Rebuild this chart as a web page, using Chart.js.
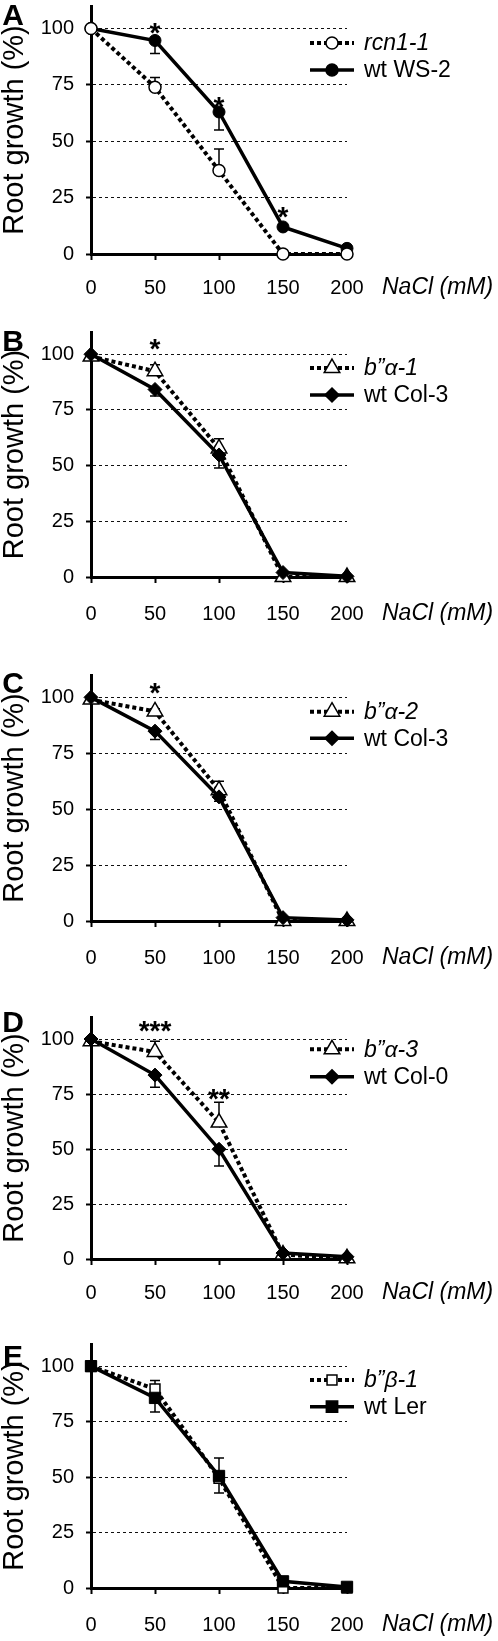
<!DOCTYPE html>
<html><head><meta charset="utf-8">
<script src="https://cdn.jsdelivr.net/npm/chart.js@4.4.1/dist/chart.umd.min.js"></script>
<style>
html,body{margin:0;padding:0;background:#fff;width:498px;height:1641px;overflow:hidden;position:relative}
.p{position:absolute;left:0;width:498px}
</style></head><body>
<script>
// ---------- DATA ----------
const nacl = [0, 50, 100, 150, 200];
const yTicks = [0, 25, 50, 75, 100];
// error arrays: positive = bar drawn upward, negative = bar drawn downward
// Panel A
const rcn11 = [100, 74, 37, 0, 0];
const rcn11Err = [0, 4.3, 9.6, 0, 0];
const wtWS2 = [100, 94.7, 63, 12, 2.5];
const wtWS2Err = [0, -5.8, -8, 0, 0];
const sigA = {x: [50, 100, 150], y: [101.2, 68.3, 19.7], t: ['*', '*', '*']};
// Panel B
const ba1 = [99, 92.4, 57.7, 0, 0];
const ba1Err = [0, 2.9, 4.4, 0, 0];
const wtCol3B = [100, 84.2, 54.8, 2, 0.3];
const wtCol3BErr = [0, -2.9, -5.9, 0, 0];
const sigB = {x: [50], y: [105.3], t: ['*']};
// Panel C
const ba2 = [99, 93.7, 58.5, 0, 0];
const ba2Err = [0, 1.2, 4, 0, 0];
const wtCol3C = [100, 84.9, 55.5, 1.5, 0.5];
const wtCol3CErr = [0, -3.7, -2, 0, 0];
const sigC = {x: [50], y: [105.3], t: ['*']};
// Panel D
const ba3 = [99, 94.1, 62, 2, 0.3];
const ba3Err = [0, 4.9, 9.3, 0, 0];
const wtCol0 = [100, 83.6, 49.9, 2.7, 1];
const wtCol0Err = [0, -5.5, -7.6, 0, 0];
const sigD = {x: [50, 100], y: [106.6, 75.8], t: ['***', '**']};
// Panel E
const bb1 = [100, 89.7, 49.5, 0, 0];
const bb1Err = [0, 3.8, -6.7, 0, 0];
const wtLer = [100, 85.7, 50.5, 3, 0.5];
const wtLerErr = [0, -6.4, 8.1, 0, 0];
const sigE = {x: [], y: [], t: []};

// ---------- LAYOUT / STYLE ----------
const FONT = "'Liberation Sans', Arial, Helvetica, sans-serif";
Chart.defaults.font.family = FONT;
Chart.defaults.color = '#000';
const PADTOP = 20, XAXISH = 52, YAXISW = 91, RIGHTPAD = 151;

const panels = [
  {letter: 'A', top: 2, bottom: 254, letterY: 16, legendY: [43, 70], tickPad: 16, mutOnTop: true, sig: sigA,
   mut: {label: 'rcn1-1', data: rcn11, err: rcn11Err, style: 'circle', r: 6},
   wt: {label: 'wt WS-2', data: wtWS2, err: wtWS2Err, style: 'circle', r: 6}},
  {letter: 'B', top: 328, bottom: 577, letterY: 341.5, legendY: [368, 395], tickPad: 19, mutOnTop: false, sig: sigB,
   mut: {label: 'b”α-1', data: ba1, err: ba1Err, style: 'triangle', r: 9},
   wt: {label: 'wt Col-3', data: wtCol3B, err: wtCol3BErr, style: 'rectRot', r: 7}},
  {letter: 'C', top: 671, bottom: 921, letterY: 684, legendY: [711.7, 738.3], tickPad: 19, mutOnTop: false, sig: sigC,
   mut: {label: 'b”α-2', data: ba2, err: ba2Err, style: 'triangle', r: 9},
   wt: {label: 'wt Col-3', data: wtCol3C, err: wtCol3CErr, style: 'rectRot', r: 7}},
  {letter: 'D', top: 1013, bottom: 1259, letterY: 1023, legendY: [1049.3, 1076.7], tickPad: 16, mutOnTop: false, sig: sigD,
   mut: {label: 'b”α-3', data: ba3, err: ba3Err, style: 'triangle', r: 9},
   wt: {label: 'wt Col-0', data: wtCol0, err: wtCol0Err, style: 'rectRot', r: 7}},
  {letter: 'E', top: 1340, bottom: 1588, letterY: 1357, legendY: [1380, 1406.7], tickPad: 19, mutOnTop: false, sig: sigE,
   mut: {label: 'b”β-1', data: bb1, err: bb1Err, style: 'rect', r: 7},
   wt: {label: 'wt Ler', data: wtLer, err: wtLerErr, style: 'rect', r: 8}}
];

function marker(ctx, style, r, x, y, fill) {
  ctx.save();
  ctx.fillStyle = fill; ctx.strokeStyle = '#000'; ctx.lineWidth = 1.5; ctx.setLineDash([]);
  ctx.beginPath();
  if (style === 'circle') { ctx.arc(x, y, r, 0, Math.PI * 2); }
  else if (style === 'triangle') {
    for (let k = 0; k < 3; k++) { const a = k * 2 * Math.PI / 3; const px = x + Math.sin(a) * r, py = y - Math.cos(a) * r; k ? ctx.lineTo(px, py) : ctx.moveTo(px, py); }
    ctx.closePath();
  } else if (style === 'rectRot') {
    ctx.moveTo(x, y - r); ctx.lineTo(x + r, y); ctx.lineTo(x, y + r); ctx.lineTo(x - r, y); ctx.closePath();
  } else { const s = Math.SQRT1_2 * r; ctx.rect(x - s, y - s, 2 * s, 2 * s); }
  ctx.fill(); ctx.stroke();
  ctx.restore();
}

function makeDecor(p) {
  return {
    id: 'decor',
    beforeDatasetsDraw(chart) {
      const ctx = chart.ctx, xs = chart.scales.x, ys = chart.scales.y;
      ctx.save(); ctx.strokeStyle = '#000'; ctx.lineWidth = 1.5; ctx.setLineDash([]);
      [p.mut, p.wt].forEach(s => {
        s.data.forEach((v, i) => {
          const e = s.err[i]; if (!e) return;
          const x = xs.getPixelForValue(nacl[i]);
          const y0 = ys.getPixelForValue(v), y1 = ys.getPixelForValue(v + e);
          ctx.beginPath(); ctx.moveTo(x, y0); ctx.lineTo(x, y1);
          ctx.moveTo(x - 5, y1); ctx.lineTo(x + 5, y1); ctx.stroke();
        });
      });
      ctx.restore();
    },
    afterDraw(chart) {
      const ctx = chart.ctx, xs = chart.scales.x, ys = chart.scales.y;
      const off = p.top - PADTOP; // canvas top in page coords
      ctx.save();
      ctx.fillStyle = '#000';
      ctx.font = "bold 30px " + FONT; ctx.textAlign = 'center'; ctx.textBaseline = 'middle';
      ctx.fillText(p.letter, 13, p.letterY - off + 1);
      ctx.font = "italic 23px " + FONT; ctx.textAlign = 'left';
      ctx.fillText('NaCl (mM)', 382, chart.chartArea.bottom + 6 + p.tickPad + 12);
      [p.mut, p.wt].forEach((s, k) => {
        const y = p.legendY[k] - off;
        ctx.save();
        ctx.strokeStyle = '#000';
        if (k === 0) { ctx.lineWidth = 4; ctx.setLineDash([4, 3]); } else { ctx.lineWidth = 3.5; ctx.setLineDash([]); }
        ctx.beginPath(); ctx.moveTo(310, y); ctx.lineTo(354, y); ctx.stroke();
        ctx.restore();
        marker(ctx, s.style, s.r, 332, y, k === 0 ? '#fff' : '#000');
        ctx.font = (k === 0 ? 'italic ' : '') + '23px ' + FONT;
        ctx.textAlign = 'left'; ctx.textBaseline = 'middle';
        ctx.fillText(s.label, 364, y + 1);
      });
      ctx.font = "bold 28px " + FONT; ctx.textAlign = 'center'; ctx.textBaseline = 'alphabetic';
      p.sig.x.forEach((xv, i) => {
        ctx.fillText(p.sig.t[i], xs.getPixelForValue(xv), ys.getPixelForValue(p.sig.y[i]) + 16);
      });
      ctx.restore();
    }
  };
}

panels.forEach(p => {
  const div = document.createElement('div');
  div.className = 'p';
  const h = PADTOP + (p.bottom - p.top) + XAXISH;
  div.style.top = (p.top - PADTOP) + 'px';
  div.style.height = h + 'px';
  const cv = document.createElement('canvas');
  div.appendChild(cv);
  document.body.appendChild(div);

  const mutDs = {
    label: p.mut.label, data: p.mut.data.map((v, i) => ({x: nacl[i], y: v})),
    borderColor: '#000', borderWidth: 4, borderDash: [4, 3],
    pointStyle: p.mut.style, pointRadius: p.mut.r, pointBackgroundColor: '#fff',
    pointBorderColor: '#000', pointBorderWidth: 1.5, tension: 0, clip: false
  };
  const wtDs = {
    label: p.wt.label, data: p.wt.data.map((v, i) => ({x: nacl[i], y: v})),
    borderColor: '#000', borderWidth: 3.5,
    pointStyle: p.wt.style, pointRadius: p.wt.r, pointBackgroundColor: '#000',
    pointBorderColor: '#000', pointBorderWidth: 1, tension: 0, clip: false
  };
  new Chart(cv, {
    type: 'line',
    data: {datasets: p.mutOnTop ? [mutDs, wtDs] : [wtDs, mutDs]},
    options: {
      responsive: true, maintainAspectRatio: false, animation: false, events: [],
      layout: {padding: {top: PADTOP, right: RIGHTPAD, left: 0, bottom: 0}},
      plugins: {legend: {display: false}, tooltip: {enabled: false}},
      scales: {
        x: {
          type: 'linear', min: 0, max: 200,
          afterBuildTicks: s => { s.ticks = nacl.map(v => ({value: v})); },
          afterFit: s => { s.height = XAXISH; },
          ticks: {font: {size: 20}, color: '#000', padding: p.tickPad, maxRotation: 0, autoSkip: false},
          grid: {drawOnChartArea: false, drawTicks: true, tickLength: 6, tickColor: '#000', tickWidth: 2},
          border: {display: true, color: '#000', width: 3}
        },
        y: {
          type: 'linear', min: 0, max: 110,
          afterBuildTicks: s => { s.ticks = yTicks.map(v => ({value: v})); },
          afterFit: s => { s.width = YAXISW; },
          ticks: {font: {size: 20}, color: '#000', padding: 12},
          grid: {
            color: c => (c.tick && c.tick.value === 0) ? 'rgba(0,0,0,0)' : '#111',
            lineWidth: 1, drawTicks: true, tickLength: 5, tickColor: '#000', tickWidth: 2, tickBorderDash: []
          },
          border: {display: true, color: '#000', width: 3, dash: [3, 3]},
          title: {display: true, text: 'Root growth (%)', font: {size: 29, lineHeight: 1}, color: '#000', padding: 0}
        }
      }
    },
    plugins: [makeDecor(p)]
  });
});
</script>
</body></html>
